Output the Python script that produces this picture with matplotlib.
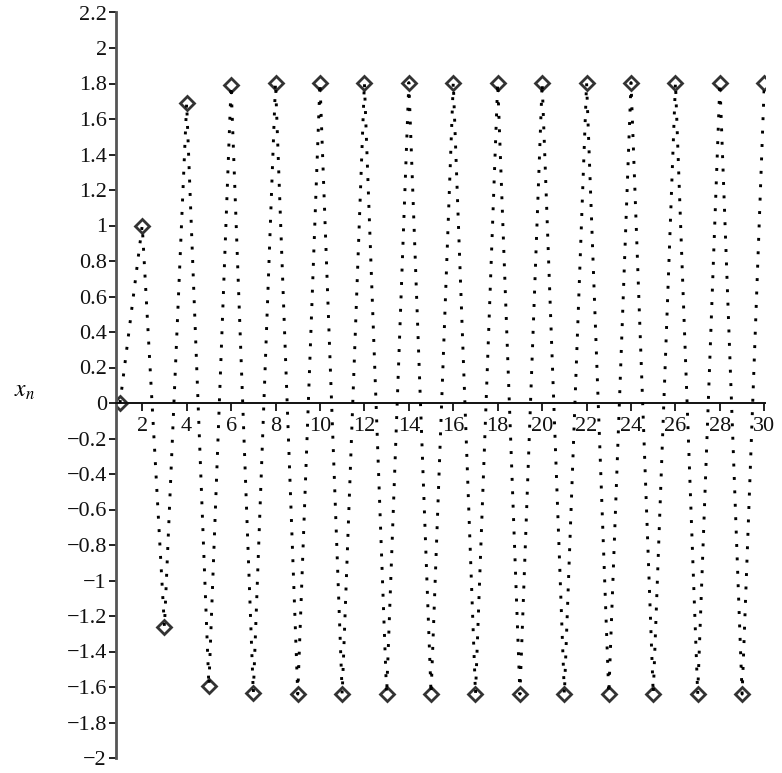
import matplotlib
matplotlib.use("Agg")
import matplotlib.pyplot as plt
import numpy as np

n = list(range(1, 31))
x_n = [0.0, 1.0, -1.26, 1.688, -1.594, 1.79, -1.635, 1.805, -1.64, 1.805,
       -1.64, 1.805, -1.64, 1.805, -1.64, 1.805, -1.64, 1.805, -1.64, 1.805,
       -1.64, 1.805, -1.64, 1.805, -1.64, 1.805, -1.64, 1.805, -1.64, 1.805]
xticks = list(range(2, 31, 2))
yticks = [round(v, 1) for v in np.arange(-2.0, 2.21, 0.2)]

plt.rcParams['font.family'] = ['Liberation Serif', 'DejaVu Serif']
plt.rcParams['mathtext.fontset'] = 'stix'

W, H = 782, 773
fig = plt.figure(figsize=(W / 100, H / 100), dpi=100)
ax = fig.add_axes([116 / W, 1 - 758 / H, (765 - 116) / W, (758 - 12.5) / H])

ax.plot(n, x_n, color='black', linestyle=(0, (1, 3.6)), linewidth=2.1, zorder=3)
ax.plot(n, x_n, linestyle='none', marker='D', markersize=6.8,
        markerfacecolor='none', markeredgecolor='#333333', markeredgewidth=2.0, zorder=2)

ax.set_xlim(0.82, 30.03)
ax.set_ylim(-2.0, 2.2)

for s in ['top', 'right']:
    ax.spines[s].set_visible(False)
ax.spines['bottom'].set_position(('data', 0))
ax.spines['bottom'].set_color('#111111')
ax.spines['bottom'].set_linewidth(1.4)
ax.spines['left'].set_color('#555555')
ax.spines['left'].set_linewidth(2.0)

ax.set_xticks(xticks)
ax.set_xticklabels([str(t) for t in xticks])
ax.set_yticks(yticks)

def fmt(v):
    if abs(v) < 1e-9:
        return '0'
    s = ('%g' % abs(v))
    return ('\u2212' if v < 0 else '') + s

ax.set_yticklabels([fmt(v) for v in yticks])
ax.tick_params(axis='x', direction='out', length=6, width=1.3, pad=4, labelsize=16, colors='#111111')
ax.tick_params(axis='y', direction='out', length=5, width=1.3, pad=1.5, labelsize=16, colors='#111111')

fig.text(24 / W, 1 - 392 / H, r'$x_n$', fontsize=17, ha='center', va='center')

fig.savefig('out.png', dpi=100)
